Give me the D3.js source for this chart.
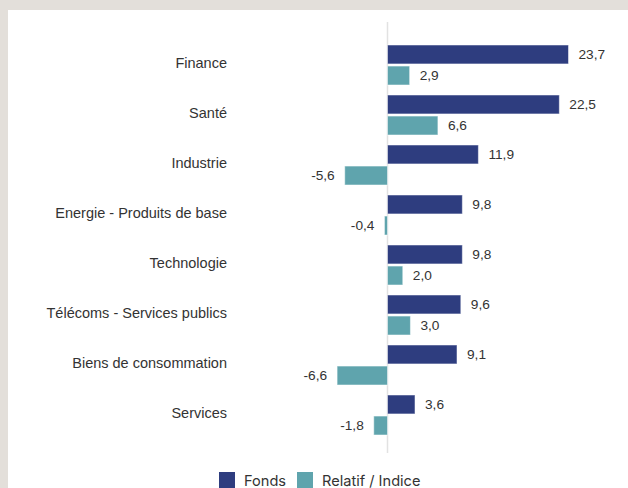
<!DOCTYPE html>
<html><head><meta charset="utf-8">
<script src="https://cdn.jsdelivr.net/npm/d3@7"></script>
<style>
html,body{margin:0;padding:0;background:#e3dfda;}
svg{display:block;}
</style></head>
<body>
<svg id="c" width="628" height="488"></svg>
<script>
const categories = ["Finance","Santé","Industrie","Energie - Produits de base","Technologie","Télécoms - Services publics","Biens de consommation","Services"];
const fonds = [23.7,22.5,11.9,9.8,9.8,9.6,9.1,3.6];
const relatif = [2.9,6.6,-5.6,-0.4,2.0,3.0,-6.6,-1.8];
const seriesNames = ["Fonds","Relatif / Indice"];
const colors = ["#2e3d7f","#5fa4ad"];

const svg = d3.select("#c");
svg.append("rect").attr("x",8).attr("y",10).attr("width",620).attr("height",478).attr("fill","#ffffff");

const x = d3.scaleLinear().domain([0,23.7]).range([387.5,568.5]);
const y = d3.scaleBand().domain(categories).range([40,440]).paddingInner(0.2).paddingOuter(0.1);
const y1 = d3.scaleBand().domain([0,1]).range([0,y.bandwidth()]).paddingInner(0.1);

svg.append("line").attr("x1",x(0)).attr("x2",x(0)).attr("y1",22).attr("y2",453)
  .attr("stroke","#e2e2e2").attr("stroke-width",1.5);

const fmt = v => d3.format(".1f")(v).replace(".",",").replace("−","-");
const data = categories.map((c,i)=>({c, vals:[fonds[i],relatif[i]]}));

const g = svg.selectAll("g.cat").data(data).join("g").attr("transform",d=>`translate(0,${y(d.c)})`);
g.selectAll("rect").data(d=>d.vals.map((v,k)=>({v,k}))).join("rect")
  .attr("x",d=>x(Math.min(0,d.v))).attr("width",d=>Math.abs(x(d.v)-x(0)))
  .attr("y",d=>y1(d.k)).attr("height",y1.bandwidth())
  .attr("fill",d=>colors[d.k]).attr("stroke","rgba(255,255,255,0.5)").attr("stroke-width",1);
g.selectAll("text.v").data(d=>d.vals.map((v,k)=>({v,k}))).join("text").attr("class","v")
  .attr("x",d=>d.v>=0 ? x(d.v)+10 : x(d.v)-10)
  .attr("y",d=>y1(d.k)+y1.bandwidth()/2)
  .attr("dy","0.35em")
  .attr("text-anchor",d=>d.v>=0?"start":"end")
  .attr("font-family","Liberation Sans, Arial, sans-serif").attr("font-size",13.7).attr("fill","#333")
  .text(d=>fmt(d.v));

const yAxis = d3.axisLeft(y).tickSize(0).tickPadding(0);
const ax = svg.append("g").attr("transform","translate(227,0)").call(yAxis);
ax.select(".domain").remove();
ax.selectAll("text").attr("font-family","Liberation Sans, Arial, sans-serif").attr("font-size",14.5).attr("fill","#333")
  .attr("dy","0.22em");

const leg = svg.append("g");
const legX = [219,297];
seriesNames.forEach((n,i)=>{
  leg.append("rect").attr("x",legX[i]).attr("y",472).attr("width",16).attr("height",16).attr("fill",colors[i]);
  leg.append("text").attr("x",legX[i]+25).attr("y",486).attr("font-family","Inter, sans-serif").attr("font-size",14.6).attr("fill","#333").text(n);
});
</script>
</body></html>
